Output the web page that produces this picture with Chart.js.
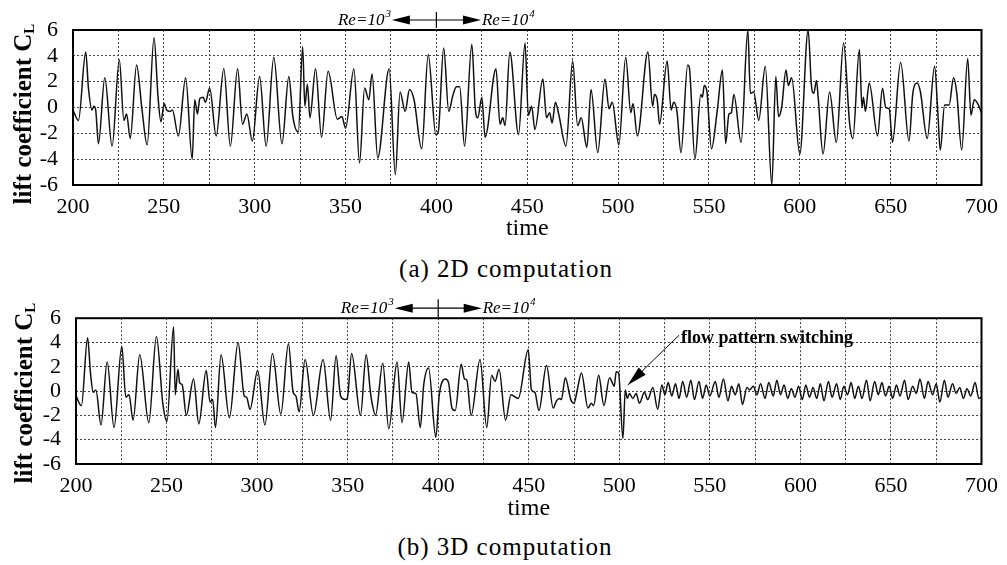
<!DOCTYPE html>
<html>
<head>
<meta charset="utf-8">
<script src="https://cdn.jsdelivr.net/npm/chart.js@4.4.1/dist/chart.umd.min.js"></script>
<style>
  body { margin: 0; background: #fff; width: 1007px; height: 565px; position: relative; overflow: hidden;
         font-family: "Liberation Serif", "Times New Roman", serif; color: #000; }
  .panel { position: absolute; left: 0; }
  .ytitle { position: absolute; white-space: nowrap; font-size: 25px; font-weight: bold;
            transform: translate(-50%, -50%) rotate(-90deg); line-height: 1; }
  .ytitle sub { font-size: 15px; vertical-align: -3px; font-weight: bold; }
  .caption { position: absolute; white-space: nowrap; font-size: 25px; letter-spacing: 1px;
             transform: translate(-50%, -50%); line-height: 1; }
</style>
</head>
<body>
<div class="panel" style="top:0"><canvas id="chart2D" width="1007" height="243"></canvas></div>
<div class="panel" style="top:290px"><canvas id="chart3D" width="1007" height="233"></canvas></div>
<div class="ytitle" style="left:23px; top:114px">lift coefficient C<sub>L</sub></div>
<div class="ytitle" style="left:24px; top:393px">lift coefficient C<sub>L</sub></div>
<div class="caption" style="left:506px; top:268px">(a) 2D computation</div>
<div class="caption" style="left:505px; top:546px">(b) 3D computation</div>

<script>
// axis ticks
const timeTickLabels = [200, 250, 300, 350, 400, 450, 500, 550, 600, 650, 700];
const liftTickLabels = [-6, -4, -2, 0, 2, 4, 6];

// (a) 2D computation (turning points of the trace)
const time2D = [
  200, 203, 207, 208.5, 210.5, 211.5, 212.5, 214, 217.5, 221.5,
  225.5, 228, 229.5, 231.5, 235, 238, 240.8, 244.6, 246.8, 248.4,
  250.2, 251.5, 253.4, 254.7, 258, 262, 265.6, 267, 268.5, 269.8,
  271.6, 272.9, 275.2, 278.8, 283, 286.6, 290.6, 293.3, 295.7, 298.7,
  302.7, 306.3, 310.5, 315, 318.8, 321, 324, 326.4, 327.6, 329,
  330.4, 333.5, 336.8, 340.4, 345.5, 348, 350, 354.6, 357.7, 360.5,
  362.8, 364.6, 367.7, 374, 377.4, 380, 382.8, 385.2, 387.7, 391.9,
  395.5, 399.7, 401, 404, 406.8, 409, 411, 412.8, 415.5, 419.5,
  421.4, 422.8, 425, 426.8, 432.8, 435, 436.5, 437.8, 440.4, 445.2,
  448.8, 450.6, 452.4, 454.2, 458.6, 460.6, 462.3, 463.7, 465.5, 467.3,
  471.3, 475, 477.7, 479.7, 482.8, 485.1, 488.8, 492.8, 495, 496.8,
  500.4, 504.2, 507, 508.2, 510.6, 516.4, 519, 520, 521.5, 522.8,
  527, 529.2, 530.6, 532.4, 534.6, 538.3, 539.2, 542.3, 545.5, 546.4,
  547.4, 548.8, 551.4, 554.6, 557.4, 559.2, 561, 562.3, 563.7, 567.7,
  571.4, 572.8, 574.6, 577.4, 581, 584.6, 586.8, 588.3, 590, 592.4,
  593.7, 595.5, 600, 604.6, 606.4, 607.7, 609.2, 610.1, 612.8, 616.4,
  620.1, 624.1, 627.4, 629.2, 632.8, 634.2, 635, 636.1, 638.2, 642.8,
  645.5, 647.3, 649.2, 651, 655.5, 660.1, 662.2, 664.6, 666.4, 670.1,
  674.2, 676, 677.3, 679.7, 682.2, 684.6, 686.4, 689.1, 692.4, 694.2,
  696, 697.9, 700
];
const lift2D = [
  -0.2, -1.0, 4.3, 1.5, -0.2, 0.1, -0.2, -2.8, 2.3, -3.0,
  3.7, -1.0, -0.5, -2.4, 3.3, -0.2, -2.9, 5.4, 0.8, -1.1,
  0.3, -0.2, -0.3, -0.2, -2.2, 2.3, -4.0, 0.6, -0.5, 0.7,
  0.8, 0.4, 1.5, -2.2, 3.0, -3.0, 3.0, -1.3, -0.5, -2.6,
  2.4, -3.0, 3.9, -2.8, 2.4, -0.7, -1.9, 4.7, 0.1, 1.8,
  -0.8, 3.0, -2.3, 2.8, -0.9, -0.7, -1.6, 3.0, -4.3, 1.5,
  0.6, 2.6, -3.9, 3.0, -5.2, 1.2, -0.3, 1.4, 0.6, -3.2,
  4.1, -2.1, -1.9, 4.6, -0.3, 0.9, 1.6, 1.6, -3.0, 4.9,
  -0.1, -0.8, 0.8, -2.3, 3.0, -1.3, -0.8, -1.4, 4.3, -2.1,
  5.0, -0.6, 0.1, -1.7, 2.2, -0.8, -0.4, -1.2, 0.4, -0.5,
  -3.0, 3.6, -1.4, -0.8, -3.1, 1.4, -3.5, 2.2, -0.1, 0.4,
  -2.9, 3.9, -0.4, 0.3, -2.2, 4.3, 0.1, 1.0, 0.6, -1.3,
  3.6, -0.2, 0.4, -0.3, -3.5, 3.3, 3.1, -4.0, 1.0, 0.8,
  1.7, 1.3, -3.2, -0.2, 2.9, -2.8, -0.5, -0.4, 1.0, -2.7,
  6.0, 1.1, 1.2, -1.0, 3.2, -6.0, 2.4, -0.7, 0.0, 2.9,
  1.7, 2.3, -3.6, 6.0, 1.7, 1.1, 2.1, 0.8, -3.6, 1.2,
  -2.7, 5.0, -1.2, -2.4, 4.5, 0.0, 0.8, -0.3, 1.9, -2.2,
  1.5, 0.0, -0.1, -2.7, 3.5, -2.6, 1.1, 1.9, 1.2, -2.4,
  3.2, -0.5, -3.3, 0.2, 0.2, 2.3, 1.1, -3.3, 3.8, -0.6,
  0.6, 0.3, -0.4
];

// (b) 3D computation
const time3D = [
  200, 203, 206.4, 208, 209.5, 211, 213.8, 217.2, 221, 225.3,
  227.5, 229.3, 231.5, 235.2, 240.2, 244.4, 248, 250.2, 253.9, 254.8,
  256.3, 257.2, 258.7, 260.9, 264.9, 267.8, 271.9, 274, 275.5, 277,
  280.1, 284.7, 289.5, 292.9, 294.2, 296.1, 300.3, 304.3, 308.5, 313.1,
  317.3, 319.9, 321.4, 323.2, 326.5, 331.1, 336.4, 340.6, 343.6, 346.1,
  348.5, 349.8, 352.2, 357.1, 360.2, 362.6, 363.5, 365.4, 369.4, 372.7,
  377.3, 380, 383.7, 385.5, 387.7, 390.1, 392, 394.7, 398.7, 400.6,
  403.9, 405.7, 407.6, 409.4, 412.7, 414.5, 415.8, 418.2, 423.1, 426.8,
  429.5, 431.4, 433.6, 437.2, 440.2, 444.2, 449.7, 451.5, 453.4, 455.6,
  459.8, 463.5, 465.3, 467.1, 468, 470.2, 473.2, 475, 476.8, 479.1,
  482.7, 484.5, 485.8, 488.6, 491.5, 494.6, 496.4, 497.2, 498.3, 499.6,
  502, 503.3, 504.4, 505.6, 507.5, 509.3, 511.1, 513.9, 515.7, 518.5,
  521.2, 523.5, 525.2, 527, 529, 531, 533, 535, 537.2, 539.5,
  541.5, 544, 546, 548, 550, 553, 555, 557.5, 560, 562,
  564, 566, 568, 570.5, 572, 574, 576, 578, 580.5, 582.5,
  585, 587, 589, 591, 593, 595, 597, 599, 601, 603,
  605, 607, 609, 611, 613, 615.5, 617.5, 620, 622, 624,
  626, 628, 630, 632, 634, 636.5, 638.5, 641, 643, 645,
  647, 649, 651, 653, 655, 657.5, 659.5, 662, 664, 666,
  668.5, 670.5, 673, 675, 677, 679.5, 681.5, 684, 686, 688,
  690, 692, 694, 696.5, 698.5, 700
];
const lift3D = [
  -0.4, -1.2, 4.4, 1.5, -0.1, 0.1, -2.8, 2.4, -3.0, 3.7,
  -0.5, -0.3, -2.4, 3.0, -2.6, 4.5, -1.1, -2.5, 5.3, -0.3,
  1.8, 0.7, 0.5, -2.0, 1.0, -2.7, 1.7, -0.9, -0.7, -3.0,
  3.0, -2.2, 4.0, -0.4, -0.5, -1.5, 1.7, -2.8, 3.1, -1.9,
  3.9, -0.1, -0.4, -1.7, 2.6, -2.0, 2.6, -2.4, 2.9, -0.4,
  -0.7, -0.6, 3.1, -2.0, 3.0, -0.1, -1.0, -2.0, 2.3, -3.1,
  2.4, -2.6, 2.4, -0.1, -0.2, -3.0, 0.5, 1.9, -3.8, -0.3,
  1.0, 0.7, -1.4, -1.6, 2.2, 1.0, 0.9, -2.0, 2.6, -3.0,
  1.3, 0.8, 1.8, -2.4, -0.3, -0.6, 3.4, 0.1, -0.1, -1.6,
  2.1, -1.4, -0.8, -0.6, -0.7, 1.1, -0.7, -1.0, 0.1, 1.5,
  -1.4, -1.0, -1.2, 1.3, -1.2, 1.1, 0.6, 0.4, 1.6, 1.5,
  -3.9, 0.1, -0.6, -0.2, -0.6, -0.2, -1.0, -0.1, -0.7, 0.3,
  -1.5, 0.5, -0.3, 0.7, -0.4, 0.6, -0.6, 0.8, -0.5, 0.9,
  -0.7, 0.8, -0.6, 0.5, -0.4, 0.8, -0.5, 1.0, -0.8, 0.4,
  -0.3, 0.6, -1.1, 0.3, 0.1, 0.4, -0.3, 0.6, -0.6, 0.7,
  -0.4, 0.9, -0.3, 0.5, -0.6, 0.2, -0.5, 0.4, -0.7, 0.5,
  -0.5, 0.3, -0.6, 0.6, -0.8, 0.8, -0.5, 0.6, -0.7, 0.4,
  -0.3, 0.7, -0.6, 0.4, -0.6, 0.9, -0.8, 0.8, -0.3, 0.7,
  -0.4, 0.4, -0.6, 0.5, -0.4, 0.9, -0.7, 0.4, -0.2, 1.0,
  -0.6, 0.8, -0.3, 0.6, -0.9, 0.9, -0.5, 0.6, -0.2, 0.3,
  -0.6, 0.2, -0.4, 0.7, -0.6, -0.5
];

const SERIF = '"Liberation Serif", "Times New Roman", serif';
Chart.defaults.color = '#000';
Chart.defaults.font.family = SERIF;

// little helper: "Re=10" with a raised exponent
function drawRe(ctx, exp, x, y, alignRight) {
  ctx.font = 'italic 17px ' + SERIF;
  const base = 'Re=10';
  const wBase = ctx.measureText(base).width;
  ctx.font = 'italic 11px ' + SERIF;
  const wExp = ctx.measureText(exp).width;
  let x0 = alignRight ? x - wBase - wExp - 1 : x;
  ctx.font = 'italic 17px ' + SERIF;
  ctx.textAlign = 'left';
  ctx.fillText(base, x0, y);
  ctx.font = 'italic 11px ' + SERIF;
  ctx.fillText(exp, x0 + wBase + 1, y - 8);
}

function arrowHead(ctx, fromX, fromY, toX, toY, len, half) {
  const a = Math.atan2(toY - fromY, toX - fromX);
  ctx.beginPath();
  ctx.moveTo(toX, toY);
  ctx.lineTo(toX - len * Math.cos(a) + half * Math.sin(a), toY - len * Math.sin(a) - half * Math.cos(a));
  ctx.lineTo(toX - len * Math.cos(a) - half * Math.sin(a), toY - len * Math.sin(a) + half * Math.cos(a));
  ctx.closePath();
  ctx.fill();
}

// frame, Re arrows and the "flow pattern switching" note
const paperMarks = {
  id: 'paperMarks',
  afterDatasetsDraw(chart, args, opts) {
    const { ctx, chartArea: a, scales: { x, y } } = chart;
    ctx.save();
    ctx.strokeStyle = '#000';
    ctx.fillStyle = '#000';
    ctx.lineWidth = 2;
    ctx.strokeRect(a.left, a.top, a.right - a.left, a.bottom - a.top);

    // Re = 10^3 <-|-> Re = 10^4
    const xm = x.getPixelForValue(opts.reAt);
    const xl = x.getPixelForValue(opts.reAt - opts.reSpan);
    const xr = x.getPixelForValue(opts.reAt + opts.reSpan);
    const ay = a.top - opts.arrowGap;
    ctx.lineWidth = 1.2;
    ctx.beginPath();
    ctx.moveTo(xl + 4, ay); ctx.lineTo(xr - 4, ay);
    ctx.moveTo(xm, ay - opts.tickHalf); ctx.lineTo(xm, ay + opts.tickHalf);
    ctx.stroke();
    arrowHead(ctx, xm, ay, xl, ay, 18, 4.5);
    arrowHead(ctx, xm, ay, xr, ay, 18, 4.5);
    drawRe(ctx, '3', xl - 1, ay + 5, true);
    drawRe(ctx, '4', xr + 1, ay + 5, false);

    if (opts.note) {
      const n = opts.note;
      const tx = x.getPixelForValue(n.tail[0]), ty = y.getPixelForValue(n.tail[1]);
      const hx = x.getPixelForValue(n.tip[0]), hy = y.getPixelForValue(n.tip[1]);
      ctx.lineWidth = 1;
      ctx.beginPath();
      ctx.moveTo(tx, ty); ctx.lineTo(hx, hy);
      ctx.stroke();
      arrowHead(ctx, tx, ty, hx, hy, 20, 5);
      ctx.font = 'bold 18px ' + SERIF;
      ctx.textAlign = 'left';
      ctx.textBaseline = 'alphabetic';
      ctx.fillText(n.text, tx + 2, ty + 8);
    }
    ctx.restore();
  }
};

function makeChart(id, times, lifts, box, marks) {
  return new Chart(document.getElementById(id), {
    type: 'line',
    data: {
      datasets: [{
        data: times.map((t, i) => ({ x: t, y: lifts[i] })),
        borderColor: '#111',
        borderWidth: 1.5,
        pointRadius: 0,
        cubicInterpolationMode: 'monotone',
        fill: false
      }]
    },
    options: {
      responsive: false,
      animation: false,
      layout: { padding: { top: box.top, right: box.right, left: 0, bottom: 0 } },
      plugins: {
        legend: { display: false },
        tooltip: { enabled: false },
        paperMarks: marks
      },
      scales: {
        x: {
          type: 'linear',
          min: 200,
          max: 700,
          grid: { color: '#444', lineWidth: 1, drawTicks: false },
          border: { display: false, dash: [2, 2] },
          ticks: {
            stepSize: 25,
            autoSkip: false,
            maxRotation: 0,
            padding: 9,
            font: { size: 22 },
            callback: v => timeTickLabels.includes(v) ? String(v) : ''
          },
          title: { display: true, text: 'time', font: { size: 24 }, padding: 0 },
          afterFit: s => { s.height = box.xAxis; }
        },
        y: {
          min: -6,
          max: 6,
          grid: { color: '#444', lineWidth: 1, drawTicks: false },
          border: { display: false, dash: [2, 2] },
          ticks: {
            stepSize: 2,
            autoSkip: false,
            padding: 15,
            font: { size: 22 },
            callback: v => liftTickLabels.includes(v) ? String(v) : ''
          },
          afterFit: s => { s.width = box.yAxis; }
        }
      }
    },
    plugins: [paperMarks]
  });
}

makeChart('chart2D', time2D, lift2D,
  { top: 30, right: 17, xAxis: 58, yAxis: 73 },
  { reAt: 400, reSpan: 24.5, arrowGap: 10, tickHalf: 8 });

makeChart('chart3D', time3D, lift3D,
  { top: 23, right: 22, xAxis: 59, yAxis: 76 },
  { reAt: 400, reSpan: 24, arrowGap: 10, tickHalf: 9,
    note: { text: 'flow pattern switching', tail: [533, 4.6], tip: [504.7, 0.5] } });
</script>
</body>
</html>
